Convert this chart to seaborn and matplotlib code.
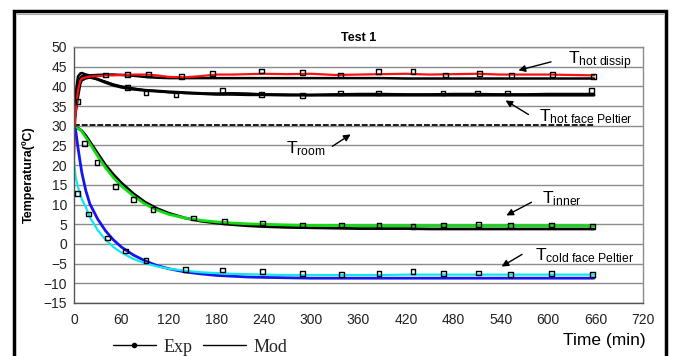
import matplotlib
matplotlib.use("Agg")
import matplotlib.pyplot as plt
import seaborn as sns
import pandas as pd
from matplotlib.lines import Line2D
from matplotlib.patches import Rectangle

# ---------------- data ----------------
t_exp = [0, 2, 5, 8, 10, 15, 20, 30, 40, 50, 60, 75, 90, 105, 120, 140, 160, 180,
         200, 220, 240, 270, 300, 330, 360, 390, 420, 450, 480, 510, 540, 570,
         600, 630, 658]

hot_dissip_exp = [22, 33, 39, 41.5, 42, 42.3, 42.5, 42.6, 42.8, 42.8, 42.9, 43, 43,
                  42.8, 42.4, 42.3, 42.6, 43, 43, 43.1, 43.2, 43.1, 43.2, 42.9, 43,
                  43.1, 43.2, 43, 43.1, 43.2, 43, 43, 43, 42.9, 42.8]
hot_dissip_mod = [30, 38, 42.5, 43.3, 43.4, 43, 42.8, 42.9, 43, 43, 42.9, 42.7, 42.4,
                  42.2, 42.1, 42.1, 42.1, 42.1, 42.1, 42.1, 42.1, 42.1, 42.1, 42.1,
                  42.1, 42.1, 42.0, 42.0, 42.0, 42.0, 42.0, 42.0, 42.0, 42.0, 42.0]
hot_face_exp = [30, 33, 37, 40.5, 41.5, 42, 42.2, 41.8, 41.2, 40.5, 40, 39.5, 39,
                38.8, 38.5, 38.3, 38.2, 38.2, 38.3, 38.2, 38, 37.9, 37.8, 38, 38.1,
                38.1, 38, 38, 38.1, 38.1, 38, 38, 38.1, 38.1, 38.1]
hot_face_mod = [30, 35, 40, 42, 42.5, 42.8, 42.5, 41.8, 41, 40.3, 39.8, 39.3, 39,
                38.8, 38.6, 38.4, 38.2, 38, 38, 37.9, 37.9, 37.8, 37.8, 37.8, 37.8,
                37.8, 37.8, 37.8, 37.8, 37.8, 37.8, 37.8, 37.8, 37.8, 37.8]
inner_exp = [29.5, 29.4, 29.3, 29.0, 28.5, 27, 25.5, 22.3, 19.3, 16.8, 14.7, 12.2,
             10.1, 8.6, 7.5, 6.6, 6, 5.6, 5.3, 5.1, 5, 4.8, 4.7, 4.7, 4.6, 4.6, 4.6,
             4.6, 4.6, 4.6, 4.6, 4.6, 4.6, 4.6, 4.6]
inner_mod = [29.5, 29.5, 29.4, 29.0, 28.7, 27.5, 26, 23, 20, 17.6, 15.5, 12.8, 10.6,
             9, 7.8, 6.6, 5.8, 5.3, 4.9, 4.6, 4.4, 4.2, 4.1, 4, 3.9, 3.9, 3.9, 3.8,
             3.8, 3.8, 3.8, 3.8, 3.8, 3.8, 3.8]
cold_exp = [21, 17, 14.5, 12.5, 11.3, 9.3, 6.8, 3.5, 1, -0.8, -2.2, -3.8, -4.9,
            -5.7, -6.3, -6.8, -7.2, -7.4, -7.6, -7.7, -7.8, -7.9, -7.9, -7.9, -7.9,
            -7.9, -7.8, -7.8, -7.8, -7.8, -7.8, -7.8, -7.8, -7.8, -7.8]
cold_mod = [29.5, 29, 24.5, 20.5, 18, 13.5, 10.2, 6.3, 3.3, 1, -0.8, -2.8, -4.3,
            -5.5, -6.3, -7.1, -7.6, -8, -8.2, -8.4, -8.5, -8.6, -8.7, -8.7, -8.7,
            -8.7, -8.7, -8.7, -8.7, -8.7, -8.7, -8.7, -8.7, -8.7, -8.7]

t_room = [0, 658]
room = [30.3, 30.3]

# experimental sample markers
t_mk_hd = [40, 68, 94, 136, 175, 237, 289, 337, 385, 429, 470, 513, 554, 605, 657]
mk_hd = [42.9, 43.1, 43.1, 42.6, 43.3, 43.9, 43.6, 42.9, 43.7, 43.7, 42.9, 43.3,
         42.7, 43.1, 42.6]
t_mk_hf = [5, 68, 91, 129, 188, 237, 289, 337, 385, 467, 511, 549, 655]
mk_hf = [36.1, 39.8, 38.3, 37.8, 38.9, 38.0, 37.6, 38.3, 38.3, 38.3, 38.3, 38.3, 38.9]
t_mk_in = [13, 29, 52, 75, 100, 151, 190, 239, 289, 339, 386, 429, 468, 512, 552,
           604, 656]
mk_in = [25.6, 20.6, 14.5, 11.2, 8.8, 6.6, 5.6, 5.3, 4.8, 4.8, 4.6, 4.5, 4.8, 5.0,
         4.6, 4.8, 4.5]
t_mk_cd = [4, 18, 42, 65, 91, 141, 188, 239, 289, 339, 386, 429, 468, 512, 552,
           604, 656]
mk_cd = [12.9, 7.6, 1.5, -1.8, -4.3, -6.4, -6.6, -7.1, -7.6, -7.7, -7.6, -7.1, -7.6,
         -7.4, -7.7, -7.6, -7.8]

x_ticks = [0, 60, 120, 180, 240, 300, 360, 420, 480, 540, 600, 660, 720]
y_ticks = [-15, -10, -5, 0, 5, 10, 15, 20, 25, 30, 35, 40, 45, 50]

# ---------------- figure ----------------
sns.set_theme(style="white")
plt.rcParams['font.family'] = ['Liberation Sans', 'DejaVu Sans']
plt.rcParams['mathtext.fontset'] = 'custom'
plt.rcParams['mathtext.rm'] = 'Liberation Sans'
plt.rcParams['mathtext.it'] = 'Liberation Sans'

fig = plt.figure(figsize=(6.76, 3.56), dpi=100)
W, H = 676, 356
ax = fig.add_axes([74 / W, 1 - 303 / H, (643 - 74) / W, (303 - 47) / H])

ax.set_xlim(0, 720)
ax.set_ylim(-15, 50)
ax.set_yticks(y_ticks)
ax.set_xticks(x_ticks)
ax.yaxis.grid(True, color='#8c8c8c', lw=1.0)
ax.xaxis.grid(False)
ax.set_axisbelow(True)

def line(t, y, color, lw, ls='-'):
    df = pd.DataFrame({'t': t, 'y': y})
    sns.lineplot(data=df, x='t', y='y', ax=ax, color=color, lw=lw, ls=ls,
                 estimator=None, sort=False)

def marks(t, y):
    df = pd.DataFrame({'t': t, 'y': y})
    sns.scatterplot(data=df, x='t', y='y', ax=ax, marker='s', s=12,
                    facecolor='none', edgecolor='black', linewidth=1.0, zorder=5)

line(t_room, room, '#1a1a1a', 1.4, (0, (3, 1)))
line(t_exp, hot_face_mod, 'black', 2.2)
line(t_exp, hot_face_exp, 'black', 1.6)
line(t_exp, hot_dissip_mod, 'black', 1.8)
line(t_exp, hot_dissip_exp, '#ff1010', 1.6)
line(t_exp, inner_mod, 'black', 2.0)
line(t_exp, inner_exp, '#10dd10', 2.0)
line(t_exp, cold_mod, '#1515ee', 2.0)
line(t_exp, cold_exp, '#10e8f0', 1.6)

marks(t_mk_hd, mk_hd)
marks(t_mk_hf, mk_hf)
marks(t_mk_in, mk_in)
marks(t_mk_cd, mk_cd)

ax.set_xlabel('')
ax.set_ylabel('Temperatura(ºC)', fontsize=9, fontweight='bold', color='black',
              labelpad=6)
ax.set_title('Test 1', fontsize=9, fontweight='bold', color='black', pad=4)

for s in ax.spines.values():
    s.set_color('#8c8c8c')
    s.set_linewidth(1.0)
ax.spines['left'].set_color('#555555')
ax.spines['bottom'].set_color('#555555')
ax.tick_params(axis='both', which='major', labelsize=10, labelcolor='#222222',
               length=4, width=1, color='#555555', direction='out', pad=3)
ax.tick_params(axis='y', direction='inout', length=6, pad=2)

# annotations
arrow = dict(arrowstyle='-|>', color='black', lw=1.0, mutation_scale=10)
def ann(txt, xy, xytext, tx, ty):
    ax.annotate('', xy=xy, xytext=xytext, arrowprops=arrow)
    ax.text(tx, ty, txt, fontsize=12.5, ha='left', va='center', color='black')

ann(r'$\mathrm{T_{hot\ dissip}}$', (559, 43.9), (607, 46.4), 625, 46.6)
ann(r'$\mathrm{T_{hot\ face\ Peltier}}$', (543, 36.8), (578, 32.5), 589, 32.4)
ann(r'$\mathrm{T_{room}}$', (353, 28.2), (324, 24.4), 268, 24.3)
ann(r'$\mathrm{T_{inner}}$', (544, 6.9), (582, 10.9), 592, 11.6)
ann(r'$\mathrm{T_{cold\ face\ Peltier}}$', (538, -6.1), (570, -2.3), 583, -3.0)

fig.text(646 / W, 1 - 341 / H, 'Time (min)', fontsize=12.5, ha='right',
         va='center', color='black')

handles = [Line2D([], [], color='black', lw=1.0, marker='o', markersize=3),
           Line2D([], [], color='black', lw=1.0)]
fig.legend(handles, ['Exp', 'Mod'], loc='center', bbox_to_anchor=(200 / W, 1 - 347 / H),
           ncol=2, frameon=False, handlelength=2.4, handletextpad=0.4,
           columnspacing=0.6, prop={'family': 'Liberation Serif', 'size': 13})

# outer frame
fig.add_artist(Rectangle((14 / W, -0.05), (666 - 14) / W, 1.05 - 11 / H,
                         transform=fig.transFigure, fill=False, ec='black', lw=2.5))
fig.add_artist(Line2D([17 / W, 663 / W], [1 - 14 / H, 1 - 14 / H],
                      transform=fig.transFigure, color='#aaaaaa', lw=0.8))

fig.savefig('out.png', dpi=100)
